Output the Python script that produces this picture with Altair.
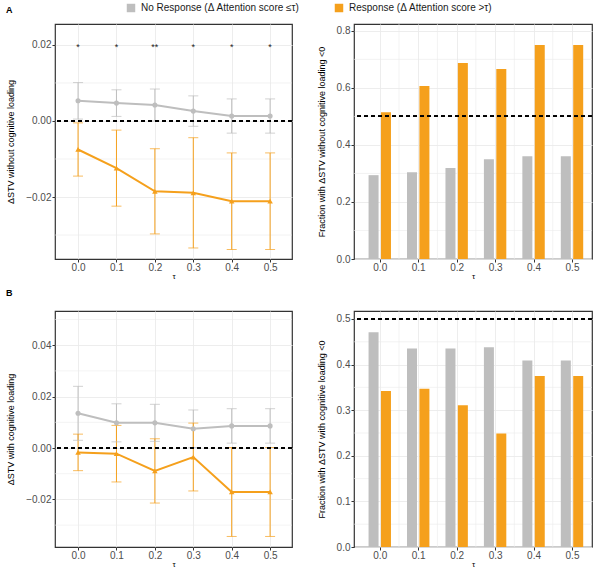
import altair as alt
import pandas as pd

# Thresholds tau
tau = [0.0, 0.1, 0.2, 0.3, 0.4, 0.5]

# Panel A, left: mean dSTV without cognitive loading (+/- error)
a_nr_mean = [0.0053, 0.0047, 0.0042, 0.0026, 0.0013, 0.0013]
a_nr_err = [0.0048, 0.0035, 0.0042, 0.0040, 0.0045, 0.0045]
a_r_mean = [-0.0075, -0.0124, -0.0185, -0.0189, -0.0211, -0.0211]
a_r_err = [0.0070, 0.0100, 0.0112, 0.0145, 0.0127, 0.0127]
a_stars = ["*", "*", "**", "*", "*", "*"]

# Panel B, left: mean dSTV with cognitive loading (+/- error)
b_nr_mean = [0.0135, 0.0098, 0.0098, 0.0075, 0.0086, 0.0086]
b_nr_err = [0.0105, 0.0074, 0.0072, 0.0073, 0.0067, 0.0067]
b_r_mean = [-0.0017, -0.0022, -0.0089, -0.0035, -0.0171, -0.0171]
b_r_err = [0.0071, 0.0110, 0.0125, 0.0132, 0.0173, 0.0173]

# Right panels: fraction with dSTV < 0
a_frac_nr = [0.294, 0.304, 0.319, 0.350, 0.360, 0.360]
a_frac_r = [0.515, 0.607, 0.687, 0.666, 0.750, 0.750]
b_frac_nr = [0.471, 0.435, 0.435, 0.438, 0.409, 0.409]
b_frac_r = [0.342, 0.347, 0.311, 0.249, 0.375, 0.375]

NR = "No Response (Δ Attention score ≤τ)"
R = "Response (Δ Attention score >τ)"
GRAY = "#BEBEBE"
ORANGE = "#F5A01C"
GRID = "#EBEBEB"
FONT = "Liberation Sans"

color_scale = alt.Scale(domain=[NR, R], range=[GRAY, ORANGE])
legend = alt.Legend(
    title=None, orient="none", legendX=71, legendY=-21, direction="horizontal",
    symbolType="square", symbolSize=72, symbolStrokeWidth=0, symbolOpacity=1,
    labelFontSize=10, labelFont=FONT, labelColor="#1A1A1A", labelLimit=300,
    columnPadding=34, labelOffset=5,
)


def grid_layer(values, channel, axis_enc):
    """Light minor grid lines drawn as rules under the data."""
    df = pd.DataFrame({axis_enc.shorthand.split(":")[0]: values})
    rule = alt.Chart(df).mark_rule(color=GRID, strokeWidth=0.6)
    return rule.encode(**{channel: axis_enc})


def line_panel(nr_mean, nr_err, r_mean, r_err, ydomain, yticks, yminor, ytitle,
               height, stars=None):
    rows = []
    for g, means, errs in ((NR, nr_mean, nr_err), (R, r_mean, r_err)):
        for t, m, e in zip(tau, means, errs):
            rows.append({"tau": t, "group": g, "mean": m, "lo": m - e, "hi": m + e})
    df = pd.DataFrame(rows)

    xaxis = alt.Axis(values=tau, format=".1f", title="τ", grid=True)
    yaxis = alt.Axis(values=yticks, format=".2f", title=ytitle, grid=True)
    xscale = alt.Scale(domain=[-0.06, 0.557], nice=False, zero=False)
    yscale = alt.Scale(domain=ydomain, nice=False, zero=False)
    x = alt.X("tau:Q", scale=xscale, axis=xaxis)
    y = alt.Y("mean:Q", scale=yscale, axis=yaxis)
    color = alt.Color("group:N", scale=color_scale, legend=legend)

    base = alt.Chart(df)
    minor = grid_layer(yminor, "y", alt.Y("mean:Q", scale=yscale, axis=yaxis))
    zero = base.mark_rule(color="black", strokeDash=[4, 3], strokeWidth=1.1).encode(
        y=alt.datum(0))
    bars = base.mark_rule(strokeWidth=1).encode(
        x=x, y=alt.Y("lo:Q", axis=yaxis), y2="hi:Q", color=color)
    cap_lo = base.mark_tick(thickness=1, size=10, orient="horizontal").encode(
        x=x, y=alt.Y("lo:Q", axis=yaxis), color=color)
    cap_hi = base.mark_tick(thickness=1, size=10, orient="horizontal").encode(
        x=x, y=alt.Y("hi:Q", axis=yaxis), color=color)
    line = base.mark_line(strokeWidth=2).encode(x=x, y=y, color=color, detail="group:N")
    pts_nr = base.mark_point(filled=True, size=26, opacity=1, shape="circle").encode(
        x=x, y=y, color=color).transform_filter(alt.FieldEqualPredicate(field="group", equal=NR))
    pts_r = base.mark_point(filled=True, size=30, opacity=1, shape="triangle-up").encode(
        x=x, y=y, color=color).transform_filter(alt.FieldEqualPredicate(field="group", equal=R))

    layers = [minor, bars, cap_lo, cap_hi, line, pts_nr, pts_r, zero]
    if stars is not None:
        sdf = pd.DataFrame({"tau": tau, "s": stars})
        txt = alt.Chart(sdf).mark_text(fontSize=9, baseline="middle", dy=2, color="#1A1A1A").encode(
            x=x, y=alt.datum(0.02), text="s:N")
        layers.append(txt)
    return alt.layer(*layers).properties(width=237, height=height)


def bar_panel(frac_nr, frac_r, ymax, yticks, yminor, ytitle, hline, height):
    rows = []
    for g, vals in ((NR, frac_nr), (R, frac_r)):
        for t, v in zip(tau, vals):
            rows.append({"tau": t, "group": g, "frac": v})
    df = pd.DataFrame(rows)
    xaxis = alt.Axis(values=tau, format=".1f", title="τ", grid=True)
    yaxis = alt.Axis(values=yticks, format=".1f", title=ytitle, grid=True)
    xscale = alt.Scale(domain=[-0.054, 0.539], nice=False, zero=False)
    yscale = alt.Scale(domain=[0, ymax], nice=False)
    x = alt.X("tau:Q", scale=xscale, axis=xaxis)
    y = alt.Y("frac:Q", scale=yscale, axis=yaxis)
    color = alt.Color("group:N", scale=color_scale, legend=legend)
    base = alt.Chart(df)
    gray = base.mark_bar(width=10, xOffset=-6.2).encode(x=x, y=y, color=color).transform_filter(
        alt.FieldEqualPredicate(field="group", equal=NR))
    orange = base.mark_bar(width=10, xOffset=6.2).encode(x=x, y=y, color=color).transform_filter(
        alt.FieldEqualPredicate(field="group", equal=R))
    ref = base.mark_rule(color="black", strokeDash=[4, 3], strokeWidth=1.1).encode(
        y=alt.datum(hline))
    mids = [0.05, 0.15, 0.25, 0.35, 0.45]
    hminor = grid_layer(yminor, "y", alt.Y("frac:Q", scale=yscale, axis=yaxis))
    vminor = grid_layer(mids, "x", alt.X("tau:Q", scale=xscale, axis=xaxis))
    return alt.layer(hminor, vminor, gray, orange, ref).properties(width=238, height=height)


a_left = line_panel(a_nr_mean, a_nr_err, a_r_mean, a_r_err, [-0.0363, 0.0255],
                    [-0.02, 0.0, 0.02], [-0.03, -0.01, 0.01],
                    "ΔSTV without cognitive loading", 235, stars=a_stars)
a_right = bar_panel(a_frac_nr, a_frac_r, 0.824, [0.0, 0.2, 0.4, 0.6, 0.8],
                    [0.1, 0.3, 0.5, 0.7], "Fraction with ΔSTV without cognitive loading <0",
                    0.5, 235)
b_left = line_panel(b_nr_mean, b_nr_err, b_r_mean, b_r_err, [-0.0385, 0.0533],
                    [-0.02, 0.0, 0.02, 0.04], [-0.03, -0.01, 0.01, 0.03, 0.05],
                    "ΔSTV with cognitive loading", 236)
b_right = bar_panel(b_frac_nr, b_frac_r, 0.5175, [0.0, 0.1, 0.2, 0.3, 0.4, 0.5],
                    [0.05, 0.15, 0.25, 0.35, 0.45], "Fraction with ΔSTV with cognitive loading <0",
                    0.5, 236)

title_a = alt.TitleParams("A", anchor="start", fontSize=9, fontWeight="bold", font=FONT,
                          offset=8, color="black")
title_b = alt.TitleParams("B", anchor="start", fontSize=9, fontWeight="bold", font=FONT,
                          offset=12, color="black")

row_a = alt.hconcat(a_left, a_right, spacing=22, title=title_a)
row_b = alt.hconcat(b_left, b_right, spacing=22, title=title_b)

chart = alt.vconcat(row_a, row_b, spacing=8).properties(
    padding={"left": 6, "top": 3, "right": 0, "bottom": 0}
).configure_view(
    stroke="#333333", strokeWidth=1.2
).configure_axis(
    labelFont=FONT, labelFontSize=10, labelColor="#4D4D4D", labelPadding=1,
    titleFont=FONT, titleFontSize=9, titleFontWeight="normal", titleColor="black",
    titlePadding=8, tickColor="#333333", tickSize=3, domain=False,
    gridColor=GRID, gridWidth=0.9,
).configure_axisY(
    titlePadding=10,
).configure_axisX(
    titleFontSize=8, titlePadding=0, labelPadding=0,
)

chart.save("out.html", embed_options={"renderer": "svg", "actions": False})
